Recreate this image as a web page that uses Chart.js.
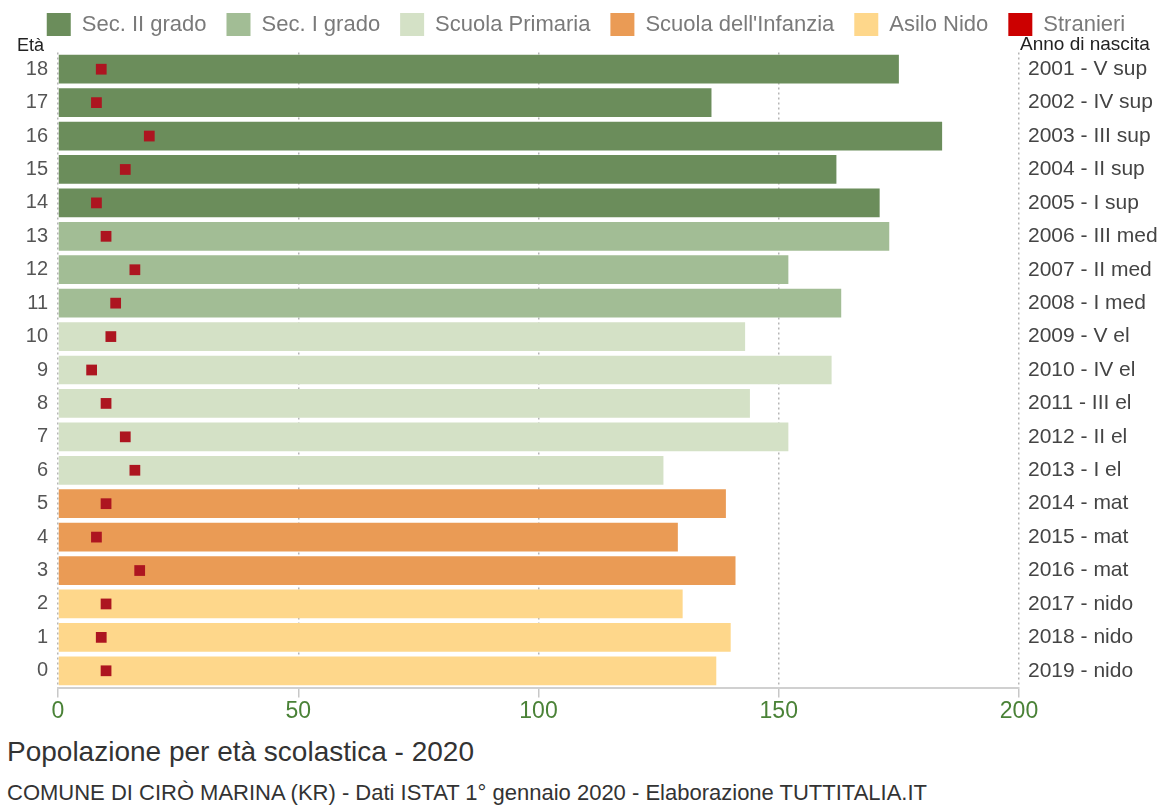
<!DOCTYPE html>
<html lang="it">
<head>
<meta charset="utf-8">
<title>Popolazione per età scolastica - 2020</title>
<script src="https://cdn.jsdelivr.net/npm/chart.js@4.4.1/dist/chart.umd.min.js"></script>
<style>
  html, body { margin: 0; padding: 0; background: #fff; }
  body { width: 1172px; height: 805px; position: relative; overflow: hidden; font-family: "Liberation Sans", Arial, sans-serif; }
  #wrap { position: absolute; left: 0; top: 0; width: 1172px; height: 722px; }
  #titolo { position: absolute; left: 7px; top: 736px; font-size: 28px; line-height: 32px; color: #333; white-space: nowrap; }
  #fonte { position: absolute; left: 7px; top: 780px; font-size: 22px; line-height: 25px; color: #333; white-space: nowrap; }
</style>
</head>
<body>
<div id="wrap"><canvas id="grafico"></canvas></div>
<div id="titolo">Popolazione per età scolastica - 2020</div>
<div id="fonte">COMUNE DI CIRÒ MARINA (KR) - Dati ISTAT 1° gennaio 2020 - Elaborazione TUTTITALIA.IT</div>
<script>
/*jslint browser:true, indent:2*/
/*globals Chart*/
(function () {
  'use strict';

  // rows from top (18 anni) to bottom (0 anni)
  var eta = ['18', '17', '16', '15', '14', '13', '12', '11', '10', '9',
    '8', '7', '6', '5', '4', '3', '2', '1', '0'];
  var anniNascita = ['2001 - V sup', '2002 - IV sup', '2003 - III sup',
    '2004 - II sup', '2005 - I sup', '2006 - III med', '2007 - II med',
    '2008 - I med', '2009 - V el', '2010 - IV el', '2011 - III el',
    '2012 - II el', '2013 - I el', '2014 - mat', '2015 - mat', '2016 - mat',
    '2017 - nido', '2018 - nido', '2019 - nido'];
  var totale = [175, 136, 184, 162, 171, 173, 152, 163, 143, 161,
    144, 152, 126, 139, 129, 141, 130, 140, 137];
  var stranieri = [9, 8, 19, 14, 8, 10, 16, 12, 11, 7,
    10, 14, 16, 10, 8, 17, 10, 9, 10];

  // school level of each row, same order as eta
  var grado = [0, 0, 0, 0, 0, 1, 1, 1, 2, 2, 2, 2, 2, 3, 3, 3, 4, 4, 4];
  var gradi = ['Sec. II grado', 'Sec. I grado', 'Scuola Primaria',
    "Scuola dell'Infanzia", 'Asilo Nido'];
  var colori = ['#6b8d5b', '#a2bd95', '#d4e1c6', '#ea9b55', '#fed78b'];

  var datasets, etichette, grafico;

  datasets = gradi.map(function (nome, g) {
    return {
      type: 'bar',
      label: nome,
      data: totale.map(function (v, i) {
        return grado[i] === g ? v : null;
      }),
      backgroundColor: colori[g],
      borderWidth: 0,
      barPercentage: 0.86,
      categoryPercentage: 1,
      order: 2
    };
  });

  datasets.push({
    type: 'line',
    label: 'Stranieri',
    data: stranieri,
    indexAxis: 'y',
    showLine: false,
    backgroundColor: '#cc0000',
    borderColor: '#cc0000',
    borderWidth: 0,
    pointStyle: 'rect',
    pointRadius: 7.6,
    pointHoverRadius: 7.6,
    pointBackgroundColor: '#ad1520',
    pointBorderWidth: 0,
    order: 1
  });

  etichette = {
    id: 'etichette',
    beforeInit: function (chart) {
      var fit = chart.legend.fit;
      chart.legend.fit = function () {
        fit.bind(this)();
        this.height = 59.5; // leaves room for the axis captions
      };
    },
    afterDraw: function (chart) {
      var ctx = chart.ctx, area = chart.chartArea;
      ctx.save();
      ctx.fillStyle = '#222';
      ctx.textBaseline = 'middle';
      ctx.textAlign = 'left';
      ctx.font = '18px "Liberation Sans", Arial, sans-serif';
      ctx.fillText('Età', 17, area.top - 6);
      ctx.font = '19px "Liberation Sans", Arial, sans-serif';
      ctx.fillText('Anno di nascita', area.right + 1, area.top - 8);
      ctx.restore();
    }
  };

  Chart.defaults.font.family = '"Liberation Sans", Arial, sans-serif';

  grafico = new Chart(document.getElementById('grafico'), {
    type: 'bar',
    data: { labels: eta, datasets: datasets },
    plugins: [etichette],
    options: {
      indexAxis: 'y',
      responsive: true,
      maintainAspectRatio: false,
      animation: false,
      layout: { padding: { top: -7, left: 0, right: 0, bottom: 0 } },
      plugins: {
        legend: {
          position: 'top',
          labels: {
            boxWidth: 24,
            boxHeight: 23,
            padding: 20,
            color: '#7a7a7a',
            font: { size: 22 },
            sort: function (a, b) { return a.datasetIndex - b.datasetIndex; }
          }
        },
        tooltip: { enabled: false }
      },
      scales: {
        x: {
          min: 0,
          max: 200,
          z: 1,
          ticks: { stepSize: 50, color: '#4a8237', font: { size: 23 }, padding: 0 },
          grid: {
            color: '#b5b5b5',
            tickColor: '#c8c8c8',
            tickLength: 10,
            tickBorderDash: [],
            lineWidth: 1.5
          },
          border: { display: true, color: '#d0d0d0', width: 2, dash: [2, 3] },
          afterFit: function (scale) { scale.height = 34.5; }
        },
        y: {
          stacked: true,
          grid: { display: false, drawTicks: false },
          border: { display: false },
          ticks: { color: '#555', font: { size: 20 }, padding: 10 },
          afterFit: function (scale) { scale.width = 58; }
        },
        y2: {
          type: 'category',
          position: 'right',
          labels: anniNascita,
          offset: true,
          grid: { display: false, drawTicks: false },
          border: { display: false },
          ticks: { color: '#444', font: { size: 21 }, padding: 9 },
          afterFit: function (scale) { scale.width = 153; }
        }
      }
    }
  });

  return grafico;
}());
</script>
</body>
</html>
